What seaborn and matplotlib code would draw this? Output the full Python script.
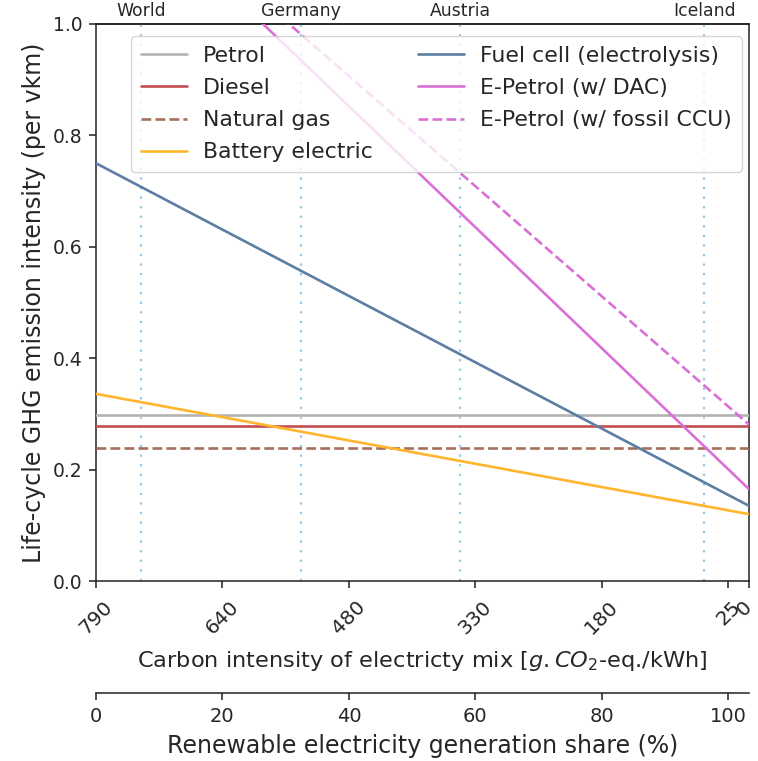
import numpy as np
import pandas as pd
import matplotlib
matplotlib.use("Agg")
import matplotlib.pyplot as plt
import matplotlib.transforms as mtransforms
import seaborn as sns

# Carbon intensity of the electricity mix falls linearly from 790 g/kWh (0 % renewables)
# to 0 g/kWh at full decarbonisation.
ci_max = 790.0
share_at_zero_ci = 103.27

# Vehicle technologies and their life-cycle GHG intensity (per vkm)
# at the dirtiest (790 g/kWh) and cleanest (0 g/kWh) electricity mix.
vehicles = ["Petrol", "Diesel", "Natural gas", "Battery electric",
            "Fuel cell (electrolysis)", "E-Petrol (w/ DAC)", "E-Petrol (w/ fossil CCU)"]
ghg_at_790 = [0.298, 0.278, 0.239, 0.336, 0.750, 1.287, 1.302]
ghg_at_0 = [0.298, 0.278, 0.239, 0.120, 0.135, 0.165, 0.281]

colors = ["#b3b3b3", "#c44e52", "#a86e5c", "#ffb52e", "#5a7fa2", "#da70d6", "#da70d6"]
dashed = [False, False, True, False, False, False, True]

# Reference countries by renewable generation share (%)
countries = ["World", "Germany", "Austria", "Iceland"]
country_share = [7.1, 32.4, 57.6, 96.2]

# Axis ticks
share_ticks = [0, 20, 40, 60, 80, 100, share_at_zero_ci]
ci_tick_labels = ["790", "640", "480", "330", "180", "25", "0"]
renew_ticks = [0, 20, 40, 60, 80, 100]

rows = []
for name, hi, lo in zip(vehicles, ghg_at_790, ghg_at_0):
    rows.append({"vehicle": name, "share": 0.0, "ghg": hi})
    rows.append({"vehicle": name, "share": share_at_zero_ci, "ghg": lo})
df = pd.DataFrame(rows)

sns.set_style("ticks")
plt.rcParams["font.family"] = ["DejaVu Sans"]
plt.rcParams["axes.linewidth"] = 1.1

LABEL_FS = 17
LEGEND_FS = 15.8
TICK_FS = 13.5

fig = plt.figure(figsize=(7.58, 7.61), dpi=100)
ax = fig.add_axes([0.1266, 0.2365, 0.8615, 0.732])

for x in country_share:
    ax.axvline(x, color="#94c6e6", linestyle=(0, (1, 3.3)), linewidth=1.6, zorder=1)

for name, col, dsh in zip(vehicles, colors, dashed):
    sub = df[df["vehicle"] == name]
    sns.lineplot(data=sub, x="share", y="ghg", ax=ax, color=col, linewidth=1.9,
                 linestyle="--" if dsh else "-", label=name, zorder=3)

ax.set_xlim(0, share_at_zero_ci)
ax.set_ylim(0, 1.0)
ax.set_yticks([0.0, 0.2, 0.4, 0.6, 0.8, 1.0])
ax.set_yticklabels(["0.0", "0.2", "0.4", "0.6", "0.8", "1.0"], fontsize=TICK_FS)
ax.set_xticks(share_ticks)
ax.set_xticklabels(ci_tick_labels, rotation=45, fontsize=14.5)
ax.tick_params(axis="both", which="major", length=5, width=1.1, pad=4.5, color="#222222")
ax.tick_params(axis="x", pad=6.5)
# nudge the last label ("0") slightly inward so it stays on the canvas
last = ax.get_xticklabels()[-1]
last.set_transform(last.get_transform() +
                   mtransforms.ScaledTranslation(-3.5 / 72, 0, fig.dpi_scale_trans))
ax.set_xlabel(r"Carbon intensity of electricty mix [$g.CO_2$-eq./kWh]",
              fontsize=16.2, labelpad=8)
ax.set_ylabel("Life-cycle GHG emission intensity (per vkm)", fontsize=LABEL_FS, labelpad=5)
for s in ax.spines.values():
    s.set_visible(True)
    s.set_color("#222222")

ax.legend(ncol=2, loc="upper right", bbox_to_anchor=(0.989, 0.978), borderaxespad=0,
          fontsize=LEGEND_FS, handlelength=2.1, columnspacing=2.05, labelspacing=0.55,
          borderpad=0.45, handletextpad=0.73)

# Country labels along the top edge
top = ax.secondary_xaxis("top")
top.set_xticks(country_share)
top.set_xticklabels(countries, fontsize=12.4)
top.tick_params(length=0, pad=3)

# Renewable share axis below the main plot
ax2 = ax.twiny()
ax2.set_xlim(ax.get_xlim())
ax2.xaxis.set_ticks_position("bottom")
ax2.xaxis.set_label_position("bottom")
ax2.spines["bottom"].set_position(("outward", 80.5))
ax2.spines["bottom"].set_color("#222222")
for side in ["top", "left", "right"]:
    ax2.spines[side].set_visible(False)
ax2.set_xticks(renew_ticks)
ax2.set_xticklabels([str(t) for t in renew_ticks], fontsize=14)
ax2.tick_params(axis="x", length=5, width=1.1, pad=5, color="#222222")
ax2.set_xlabel("Renewable electricity generation share (%)", fontsize=LABEL_FS, labelpad=6)

fig.savefig("out.png", dpi=100)
